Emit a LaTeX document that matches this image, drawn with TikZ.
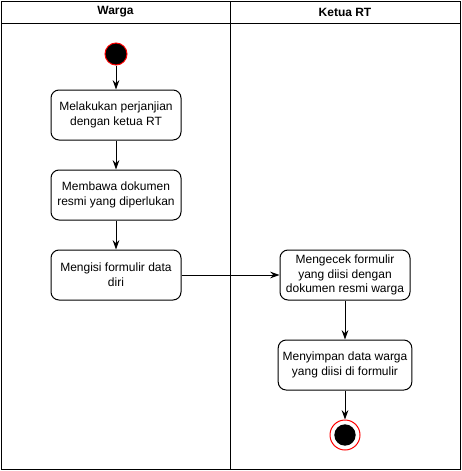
\documentclass[tikz,border=0pt]{standalone}
\usepackage{fontspec}
\setmainfont{Liberation Sans}
\usetikzlibrary{positioning,calc,arrows.meta}

\begin{document}
\begin{tikzpicture}[x=0.75pt,y=-0.75pt,
    activity/.style={draw, rounded corners=6pt, minimum width=97.5pt, minimum height=37.5pt, align=center, font=\fontsize{9}{11}\selectfont, line width=0.75pt},
    flow/.style={-{Stealth[length=7pt,width=5pt]}, line width=0.75pt},
    lane/.style={draw, line width=0.75pt}]
    \useasboundingbox (0,0) rectangle (461,471);

    % swimlanes
    \draw[lane] (1,1) rectangle (460,469);
    \draw[lane] (1,23) -- (460,23);
    \draw[lane] (230,1) -- (230,469);
    \node[font=\bfseries\fontsize{9}{11}\selectfont] (warga) at (115.5,12) {Warga};
    \node[font=\bfseries\fontsize{9}{11}\selectfont] (rt) at (345,12) {Ketua RT};

    % start and end
    \node[circle, fill=black, draw=red, line width=0.75pt, minimum size=16.5pt, inner sep=0pt] (start) at (116,54) {};
    \node[circle, draw=red, line width=0.75pt, minimum size=22.5pt, inner sep=0pt] (stop) at (345,435) {};
    \node[circle, fill=black, minimum size=16pt, inner sep=0pt] (stopdot) at (345,435) {};

    % activities
    \node[activity] (janji) at (116,115) {Melakukan perjanjian\\dengan ketua RT};
    \node[activity] (bawa) at (116,195) {Membawa dokumen\\resmi yang diperlukan};
    \node[activity] (isi) at (116,275) {Mengisi formulir data\\diri};
    \node[activity] (cek) at (345,275) {Mengecek formulir\\yang diisi dengan\\dokumen resmi warga};
    \node[activity] (simpan) at (345,365) {Menyimpan data warga\\yang diisi di formulir};

    % flows
    \draw[flow] (start) -- (janji);
    \draw[flow] (janji) -- (bawa);
    \draw[flow] (bawa) -- (isi);
    \draw[flow] (isi) -- (cek);
    \draw[flow] (cek) -- (simpan);
    \draw[flow] (simpan) -- (stop);
\end{tikzpicture}
\end{document}
